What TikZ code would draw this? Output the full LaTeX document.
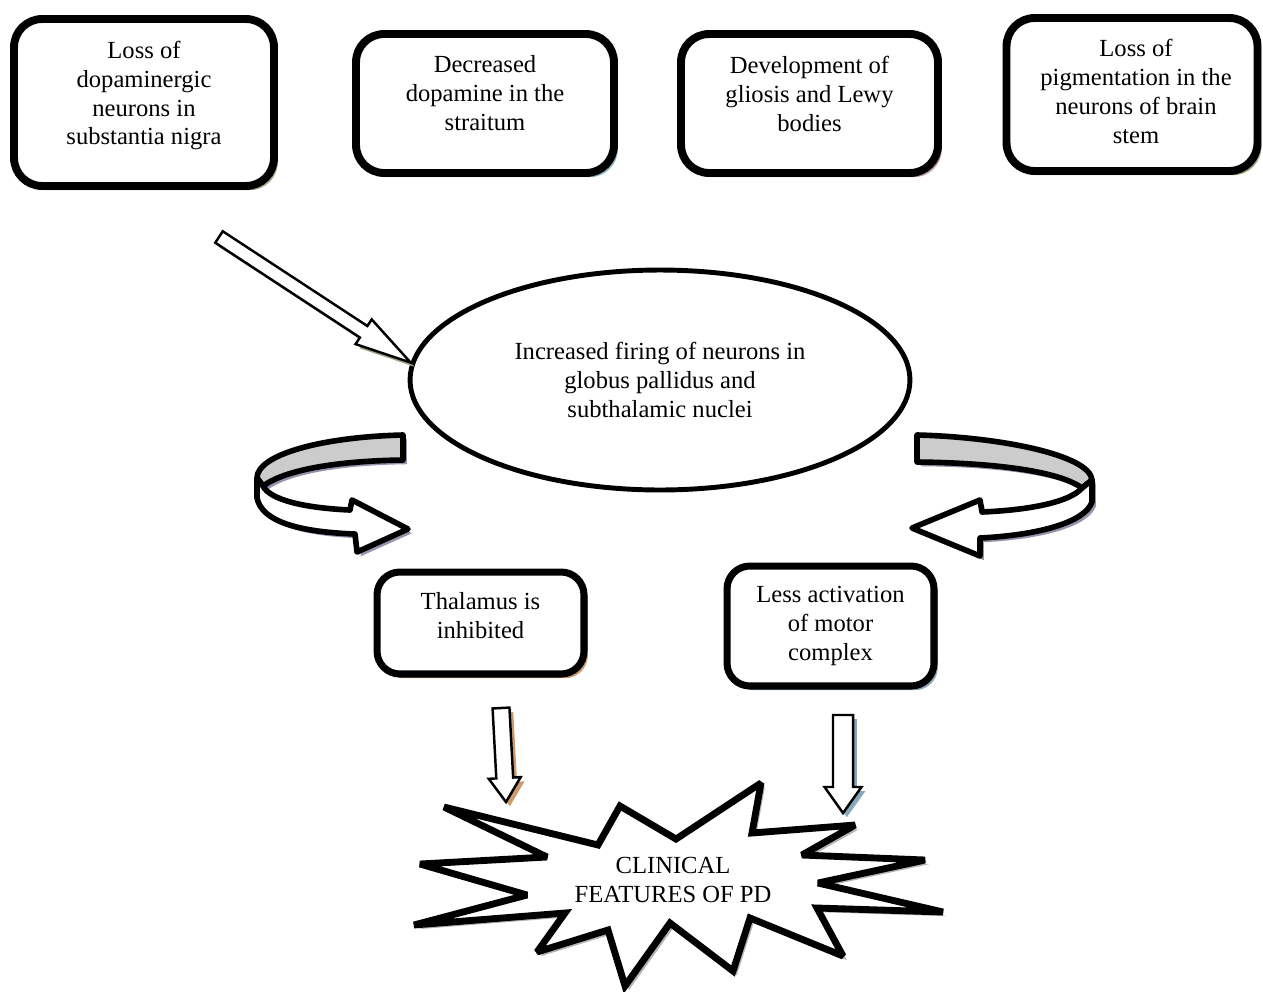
\documentclass[tikz,border=0pt]{standalone}
\usepackage{fontspec}
\setmainfont{Liberation Serif}
\usetikzlibrary{shapes.geometric,shadows,calc}

\definecolor{shadowOlive}{HTML}{A3A484}
\definecolor{shadowBlue}{HTML}{8FB4C2}
\definecolor{shadowRose}{HTML}{C49A9A}
\definecolor{shadowTan}{HTML}{CC9A6E}
\definecolor{shadowSteel}{HTML}{8AA8BC}
\definecolor{shadowLilac}{HTML}{9A92AC}
\definecolor{shadowGrey}{HTML}{B4B4B4}
\definecolor{ribbonGrey}{HTML}{CCCCCC}

\tikzset{
    causebox/.style={draw, line width=4.5pt, rounded corners=16pt, fill=white, inner sep=0pt},
    resultbox/.style={causebox, line width=4pt, rounded corners=13pt},
    boxtext/.style={align=center, inner sep=0pt, font=\fontsize{14}{16.5}\selectfont},
    softshadow/.style={drop shadow={shadow xshift=2.2pt, shadow yshift=-2.4pt, fill=#1, opacity=1}},
    hollowarrow/.style={draw, line width=1.4pt, fill=white, line join=miter},
    ribbon/.style={draw, line width=3.2pt, line join=round},
}

\newcommand{\blockarrow}[6]{%
    \coordinate (headbase) at ($(#3)!#6!(#2)$);
    \draw[#1] ($(#2)!#4!90:(#3)$) -- ($(headbase)!#4!90:(#3)$) -- ($(headbase)!#5!90:(#3)$) -- (#3)
        -- ($(headbase)!#5!-90:(#3)$) -- ($(headbase)!#4!-90:(#3)$) -- ($(#2)!#4!-90:(#3)$) -- cycle;
}

\begin{document}
\begin{tikzpicture}[x=0.02cm, y=-0.02cm]
        \useasboundingbox (0, 0) rectangle (1263, 991);

        \node[causebox, softshadow=shadowOlive, minimum width=5.2cm, minimum height=3.34cm] (lossDopa) at (144, 102.5) {};
        \node[causebox, softshadow=shadowBlue, minimum width=5.16cm, minimum height=2.78cm] (lessDopa) at (485, 103.5) {};
        \node[causebox, softshadow=shadowRose, minimum width=5.14cm, minimum height=2.78cm] (gliosis) at (809.5, 103.5) {};
        \node[causebox, softshadow=shadowOlive, minimum width=5.02cm, minimum height=3.06cm] (pigment) at (1132, 94.5) {};
        \node[boxtext] (lossDopaText) at (144, 95.5) {Loss of\\dopaminergic\\neurons in\\substantia nigra};
        \node[boxtext] (lessDopaText) at (485, 93.5) {Decreased\\dopamine in the\\straitum};
        \node[boxtext] (gliosisText) at (809.5, 93.5) {Development of\\gliosis and Lewy\\bodies};
        \node[boxtext] (pigmentText) at (1136, 91.5) {Loss of\\pigmentation in the\\neurons of brain\\stem};

        \node[ellipse, draw, line width=2.8pt, inner sep=0pt, minimum width=10cm, minimum height=4.4cm, boxtext] (firing) at (660, 380)
            {Increased firing of neurons in\\globus pallidus and\\subthalamic nuclei};

        \coordinate (causeTail) at (219, 237);
        \blockarrow{hollowarrow, softshadow=shadowOlive}{causeTail}{firing.176}{3.9pt}{8.4pt}{32pt}

        \draw[ribbon, fill=ribbonGrey, softshadow=shadowLilac] (403, 435) .. controls (320, 437) and (257, 455) .. (257, 478)
            -- (263, 486) .. controls (285, 470) and (335, 461) .. (403, 460) -- cycle;
        \draw[ribbon, fill=white, softshadow=shadowLilac] (257, 478) -- (257, 498) .. controls (262, 522) and (300, 532) .. (355, 534)
            -- (357, 552) -- (408, 529) -- (352, 500) -- (350, 510) .. controls (305, 508) and (270, 500) .. (263, 486) -- cycle;

        \draw[ribbon, fill=ribbonGrey, softshadow=shadowLilac] (917, 435) .. controls (1000, 437) and (1090, 455) .. (1092, 480)
            -- (1082, 488) .. controls (1060, 472) and (1000, 463) .. (917, 462) -- cycle;
        \draw[ribbon, fill=white, softshadow=shadowLilac] (1092, 480) -- (1092, 502) .. controls (1085, 522) and (1040, 535) .. (980, 538)
            -- (980, 556) -- (912, 528) -- (980, 500) -- (982, 512) .. controls (1030, 510) and (1070, 502) .. (1082, 488) -- cycle;

        \node[resultbox, softshadow=shadowTan, minimum width=4.14cm, minimum height=2.04cm] (thalamus) at (480.5, 623) {};
        \node[resultbox, softshadow=shadowSteel, minimum width=4.14cm, minimum height=2.4cm] (motor) at (830.5, 626) {};
        \node[boxtext] (thalamusText) at (480.5, 616) {Thalamus is\\inhibited};
        \node[boxtext] (motorText) at (830.5, 626) {Less activation\\of motor\\complex};

        \draw[line width=3.9pt, line join=miter, miter limit=2.5, fill=white, softshadow=shadowGrey]
            (444, 807) -- (598, 845) -- (620, 806) -- (676, 839) -- (761, 783) -- (752, 833)
            -- (855, 825) -- (802, 855) -- (925, 860) -- (818, 883) -- (943, 912) -- (817, 908)
            -- (843, 956) -- (750, 918) -- (733, 971) -- (670, 923) -- (625, 986) -- (608, 930)
            -- (537, 952) -- (565, 913) -- (414, 925) -- (527, 895) -- (420, 864) -- (547, 857) -- cycle;
        \node[boxtext] (clinical) at (673, 880) {CLINICAL\\FEATURES OF PD};

        \coordinate (thalTail) at (501, 708);
        \coordinate (burstLeft) at (506, 802);
        \coordinate (motorTail) at (843, 715);
        \coordinate (burstRight) at (843, 813);
        \blockarrow{hollowarrow, softshadow=shadowTan}{thalTail}{burstLeft}{4.8pt}{9.1pt}{13.7pt}
        \blockarrow{hollowarrow, softshadow=shadowSteel}{motorTail}{burstRight}{5.7pt}{10.5pt}{14.8pt}
\end{tikzpicture}
\end{document}
